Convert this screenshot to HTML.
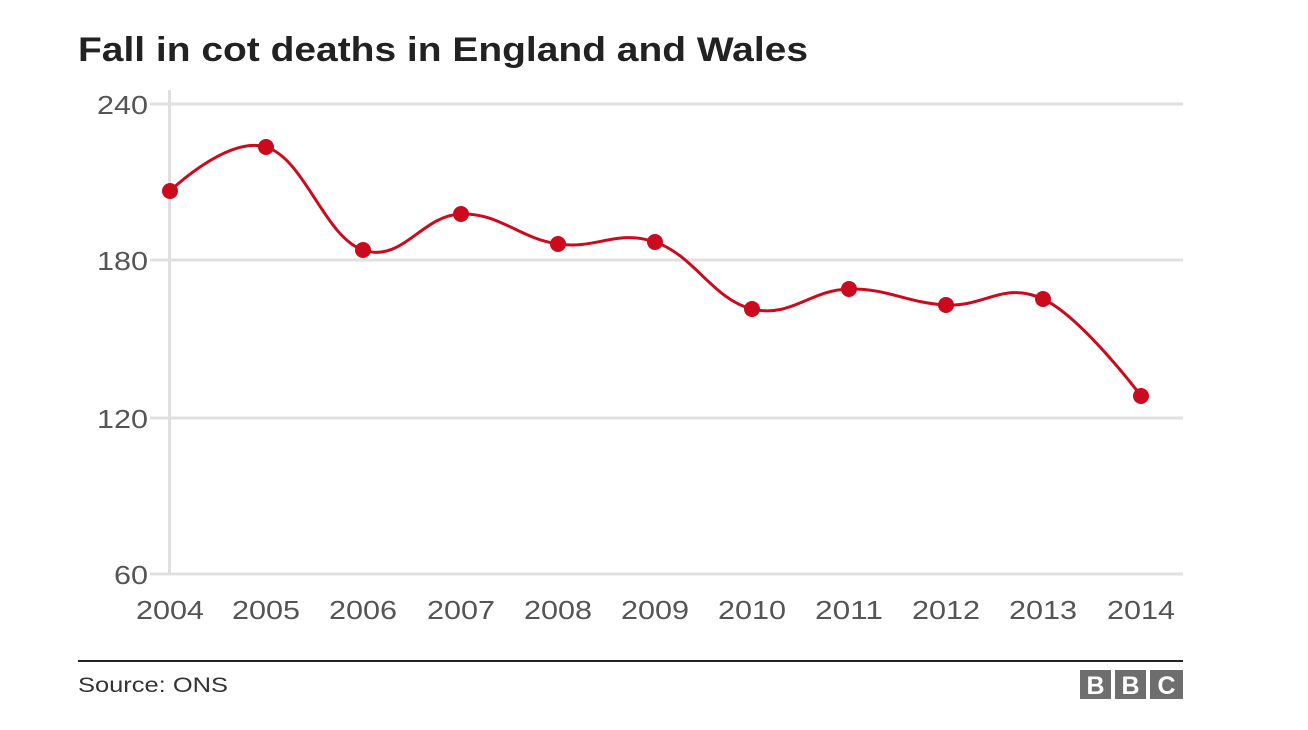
<!DOCTYPE html>
<html><head><meta charset="utf-8"><style>
body{margin:0;background:#fff;width:1308px;height:730px;overflow:hidden}
svg{display:block}
text{font-family:"Liberation Sans",Arial,sans-serif}
</style></head><body>
<svg id="s" width="1308" height="730" xmlns="http://www.w3.org/2000/svg">
<text x="78" y="61" font-size="34" font-weight="bold" fill="#222" textLength="730" lengthAdjust="spacingAndGlyphs">Fall in cot deaths in England and Wales</text>
<g stroke="#e0e0e0" stroke-width="3">
<line x1="150" y1="104" x2="1183" y2="104"/>
<line x1="150" y1="260" x2="1183" y2="260"/>
<line x1="150" y1="418" x2="1183" y2="418"/>
<line x1="150" y1="574" x2="1183" y2="574"/>
<line x1="169.5" y1="90" x2="169.5" y2="575"/>
</g>
<g font-size="26" fill="#555">
<text x="97" y="114" textLength="51" lengthAdjust="spacingAndGlyphs">240</text>
<text x="97" y="270" textLength="51" lengthAdjust="spacingAndGlyphs">180</text>
<text x="97" y="428" textLength="51" lengthAdjust="spacingAndGlyphs">120</text>
<text x="114" y="584" textLength="34" lengthAdjust="spacingAndGlyphs">60</text>
</g>
<g id="xl" font-size="26" fill="#555"></g>
<path id="ln" fill="none" stroke="#cc0a1e" stroke-width="3"/>
<g id="pts" fill="#cc0a1e"></g>
<line x1="78" y1="661" x2="1183" y2="661" stroke="#222" stroke-width="2"/>
<text x="78" y="692" font-size="21" fill="#333" textLength="150" lengthAdjust="spacingAndGlyphs">Source: ONS</text>
<g fill="#6e6e6e">
<rect x="1080" y="670" width="31" height="29"/>
<rect x="1115" y="670" width="31" height="29"/>
<rect x="1150" y="670" width="33" height="29"/>
</g>
<g font-size="25" font-weight="bold" fill="#fff" text-anchor="middle">
<text x="1095.5" y="694">B</text>
<text x="1130.5" y="694">B</text>
<text x="1166.5" y="694">C</text>
</g>
</svg>
<script>
var P=[[170,191],[266,147],[363,250],[461,214],[558,244],[655,242],[752,309],[849,289],[946,305],[1043,299],[1141,396]];
var NS="http://www.w3.org/2000/svg";
function cp(i){var s=1.5,d=s+1,p=P[i],a=P[i-1],n=P[i+1];
var lx=(s*p[0]+a[0])/d,ly=(s*p[1]+a[1])/d,rx=(s*p[0]+n[0])/d,ry=(s*p[1]+n[1])/d;
var cor=0;if(rx!==lx){cor=((ry-ly)*(rx-p[0]))/(rx-lx)+p[1]-ry;}
ly+=cor;ry+=cor;return [[lx,ly],[rx,ry]];}
var d="M"+P[0][0]+" "+P[0][1];
for(var i=1;i<P.length;i++){
var c1=i-1>0?cp(i-1)[1]:P[i-1];
var c2=i<P.length-1?cp(i)[0]:P[i];
d+=" C"+c1[0]+" "+c1[1]+" "+c2[0]+" "+c2[1]+" "+P[i][0]+" "+P[i][1];}
document.getElementById("ln").setAttribute("d",d);
var g=document.getElementById("pts"),xl=document.getElementById("xl");
P.forEach(function(p,k){var c=document.createElementNS(NS,"circle");c.setAttribute("cx",p[0]);c.setAttribute("cy",p[1]);c.setAttribute("r",8);g.appendChild(c);
var t=document.createElementNS(NS,"text");t.setAttribute("x",p[0]-34);t.setAttribute("y",619);t.setAttribute("textLength",68);t.setAttribute("lengthAdjust","spacingAndGlyphs");t.textContent=2004+k;xl.appendChild(t);});
</script>
</body></html>
